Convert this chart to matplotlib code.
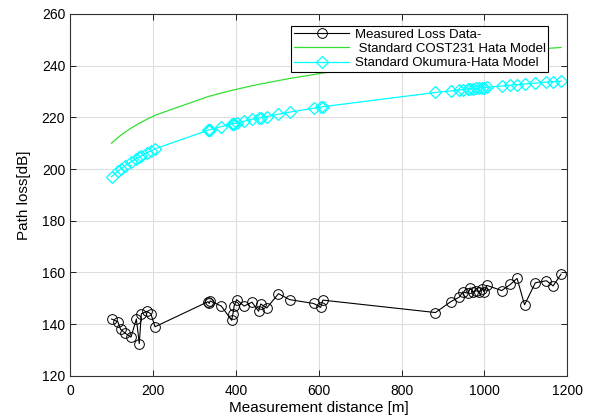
"""
Path loss vs measurement distance: measured data against COST231 and Okumura-Hata.
"""

import matplotlib
matplotlib.use("Agg")
import matplotlib.pyplot as plt

# measurement distances [m]
distance = [100, 115, 122, 133, 147, 160, 167, 172, 185, 195, 205,
            333, 336, 338, 365, 390, 393, 396, 402, 420, 439, 455, 460, 475,
            503, 530, 588, 605, 610,
            882, 919, 940, 948, 960, 966, 972, 980, 988, 995, 1000, 1006,
            1042, 1063, 1079, 1097, 1123, 1150, 1166, 1185]

# measured path loss [dB]
measured_loss = [142.0, 141.0, 138.0, 136.5, 135.0, 142.0, 132.5, 144.0, 145.0, 144.0, 139.0,
                 148.7, 148.0, 149.0, 147.0, 141.5, 144.0, 147.0, 149.5, 147.0, 148.5, 145.0, 147.8, 146.3,
                 151.8, 149.5, 148.0, 146.5, 149.3,
                 144.5, 148.7, 150.5, 152.5, 152.0, 154.0, 152.5, 153.0, 152.5, 153.5, 152.5, 155.0,
                 153.0, 155.4, 157.7, 147.5, 156.0, 156.8, 154.8, 159.3]

# COST231 Hata model [dB]
cost231_loss = [210.0, 212.1, 213.0, 214.3, 215.8, 217.0, 217.7, 218.1, 219.2, 220.0, 220.8,
                228.0, 228.2, 228.2, 229.4, 230.4, 230.5, 230.6, 230.8, 231.5, 232.2, 232.7, 232.9, 233.3,
                234.2, 235.0, 236.5, 237.0, 237.1,
                242.6, 243.2, 243.6, 243.7, 243.9, 244.0, 244.1, 244.2, 244.3, 244.4, 244.5, 244.6,
                245.1, 245.4, 245.6, 245.9, 246.2, 246.6, 246.8, 247.0]

# Okumura-Hata model [dB]
okumura_loss = [197.0, 199.1, 200.0, 201.3, 202.8, 204.0, 204.7, 205.1, 206.2, 207.0, 207.8,
                215.0, 215.2, 215.2, 216.4, 217.4, 217.5, 217.6, 217.8, 218.5, 219.2, 219.7, 219.9, 220.3,
                221.2, 222.0, 223.5, 224.0, 224.1,
                229.6, 230.2, 230.6, 230.7, 230.9, 231.0, 231.1, 231.2, 231.3, 231.4, 231.5, 231.6,
                232.1, 232.4, 232.6, 232.9, 233.2, 233.6, 233.8, 234.0]

plt.rcParams['font.family'] = ['Liberation Sans', 'DejaVu Sans']

fig = plt.figure(figsize=(5.89, 4.2), dpi=100)
ax = fig.add_axes([0.119, 0.105, 0.844, 0.862])

ax.plot(distance, measured_loss, '-o', color='black', lw=0.8, ms=7,
        mfc='none', mew=0.7, label='Measured Loss Data-')
ax.plot(distance, cost231_loss, '-', color='#33e033', lw=0.9,
        label=' Standard COST231 Hata Model')
ax.plot(distance, okumura_loss, '-D', color='cyan', lw=0.9, ms=6,
        mfc='none', mew=0.9, label='Standard Okumura-Hata Model')

ax.set_xlim(0, 1200)
ax.set_ylim(120, 260)
ax.set_xticks(range(0, 1201, 200))
ax.set_yticks(range(120, 261, 20))
ax.grid(True, color='#dddddd', lw=0.8)
ax.set_axisbelow(True)
ax.tick_params(direction='in', top=True, right=True, labelsize=10, length=4, width=0.6)
ax.tick_params(axis='x', pad=6)
for s in ax.spines.values():
    s.set_linewidth(0.8)
    s.set_color('#333333')

ax.set_xlabel('Measurement distance [m]', fontsize=11, labelpad=2)
ax.set_ylabel('Path loss[dB]', fontsize=11, labelpad=8)

leg = ax.legend(loc='upper right', bbox_to_anchor=(0.975, 0.985), fontsize=9.5,
                frameon=True, fancybox=False, framealpha=1, edgecolor='black',
                borderpad=0.2, labelspacing=0.15, handlelength=4.2, handletextpad=0.4)
leg.get_frame().set_linewidth(0.8)

fig.savefig('out.png', dpi=100)
